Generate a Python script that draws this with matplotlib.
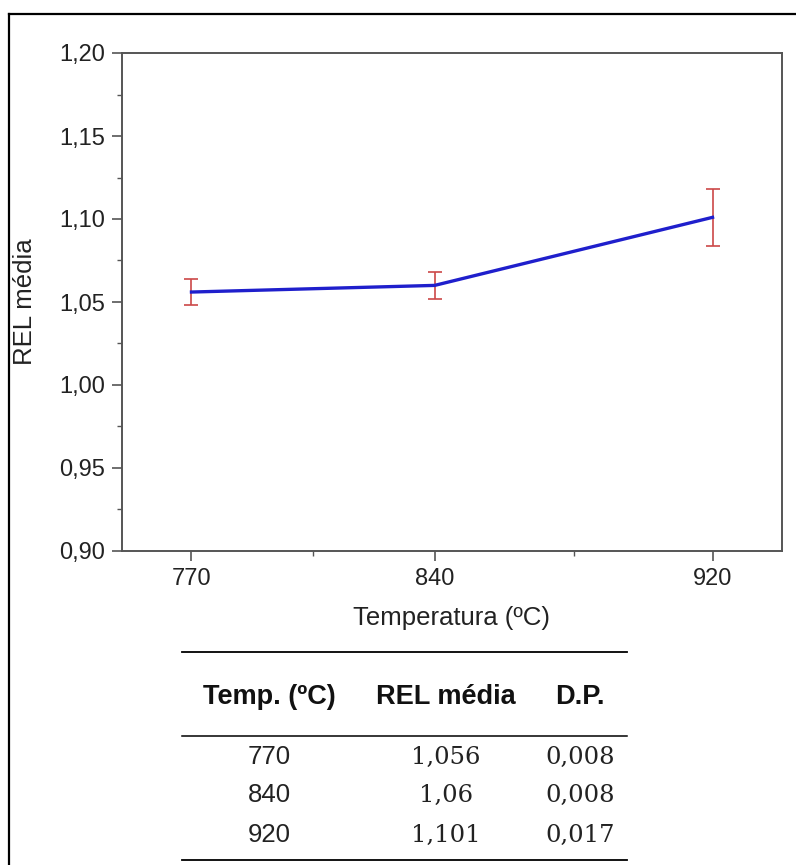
import matplotlib
matplotlib.use("Agg")
import matplotlib.pyplot as plt
from matplotlib.lines import Line2D
from matplotlib.ticker import FuncFormatter

temps = [770, 840, 920]
rel_media = [1.056, 1.06, 1.101]
desvio = [0.008, 0.008, 0.017]
col_headers = ["Temp. (ºC)", "REL média", "D.P."]

plt.rcParams['font.family'] = ['Liberation Sans', 'DejaVu Sans']

W, H = 796, 865
fig = plt.figure(figsize=(W / 100, H / 100), dpi=100)

def fx(px):
    return px / W

def fy(py):
    return 1 - py / H

# moldura externa
fig.add_artist(Line2D([fx(9), fx(9)], [0, fy(14)], color='black', lw=1.6))
fig.add_artist(Line2D([fx(9), 1], [fy(14), fy(14)], color='black', lw=1.6))

ax = fig.add_axes([fx(122), fy(551), fx(782) - fx(122), fy(53) - fy(551)])
ax.errorbar(temps, rel_media, yerr=desvio, color='#1f1fcc', lw=2.4,
            ecolor='#cc4848', elinewidth=1.2, capsize=5, capthick=1.2, zorder=3)
ax.set_xlim(750, 940)
ax.set_ylim(0.90, 1.20)
ax.set_xticks(temps)
ax.set_xticks([805, 880], minor=True)
ax.set_yticks([0.90 + 0.05 * i for i in range(7)])
ax.set_yticks([0.925 + 0.05 * i for i in range(6)], minor=True)
ax.yaxis.set_major_formatter(FuncFormatter(lambda v, p: f"{v:.2f}".replace('.', ',')))
for s in ax.spines.values():
    s.set_color('#555555')
    s.set_linewidth(1.4)
ax.tick_params(which='major', length=7.5, width=1.2, color='#555555', labelsize=17,
               labelcolor='#222222', pad=4.5)
ax.tick_params(which='minor', length=3.5, width=1.0, color='#555555')
ax.set_xlabel("Temperatura (ºC)", fontsize=18.5, color='#222222', labelpad=12)
ax.set_ylabel("REL média", fontsize=18.5, color='#222222', labelpad=16.5)

# tabela
x0, x1 = fx(182), fx(627)
for py, lw in [(652, 1.3), (736, 1.1), (860, 1.3)]:
    fig.add_artist(Line2D([x0, x1], [fy(py), fy(py)], color='black', lw=lw))

col_x = [fx(269), fx(446), fx(580)]
for cx, h in zip(col_x, col_headers):
    fig.text(cx, fy(697), h, ha='center', va='center', fontsize=19.5,
             fontweight='bold', color='#111111')

row_y = [757, 795, 835]
for i in range(len(temps)):
    fig.text(col_x[0], fy(row_y[i]), str(temps[i]), ha='center', va='center',
             fontsize=18.5, color='#222222')
    fig.text(col_x[1], fy(row_y[i]), str(rel_media[i]).replace('.', ','),
             ha='center', va='center', fontsize=17.5, color='#222222',
             family='DejaVu Serif')
    fig.text(col_x[2], fy(row_y[i]), f"{desvio[i]:.3f}".replace('.', ','),
             ha='center', va='center', fontsize=17.5, color='#222222',
             family='DejaVu Serif')

fig.savefig("out.png", dpi=100)
